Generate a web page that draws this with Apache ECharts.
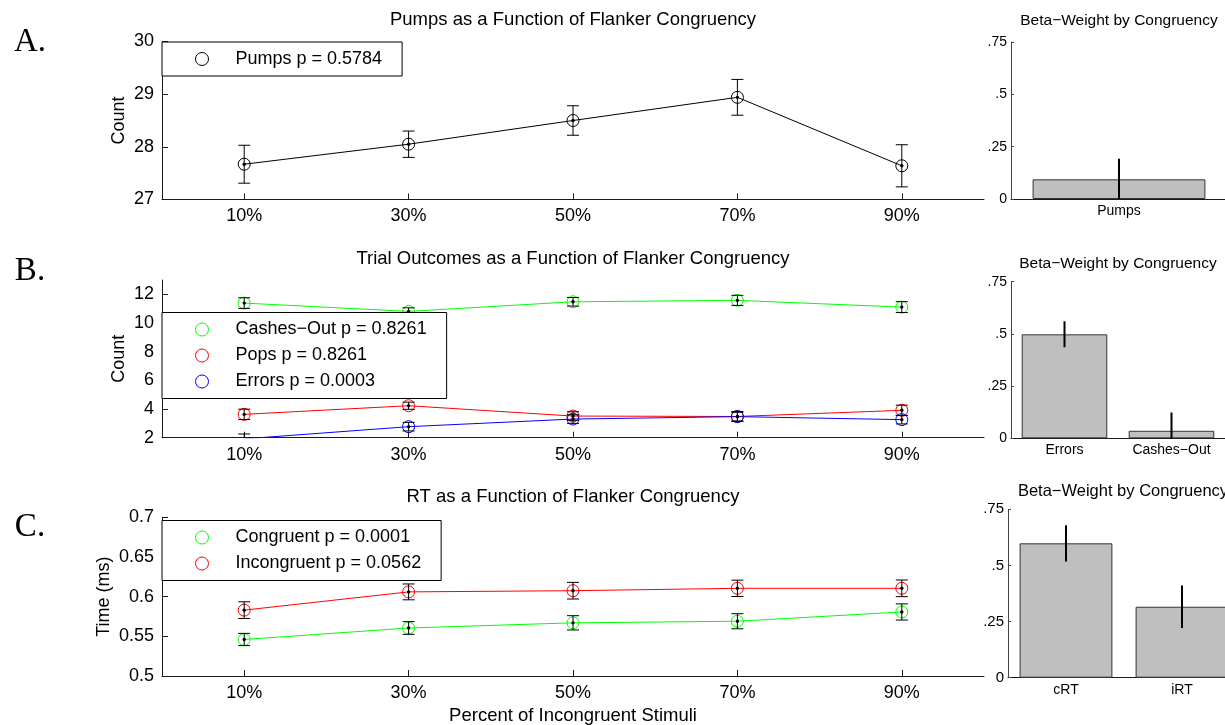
<!DOCTYPE html>
<html>
<head>
<meta charset="utf-8">
<script src="https://cdn.jsdelivr.net/npm/echarts@6/dist/echarts.min.js"></script>
<style>
  html, body { margin: 0; padding: 0; background: #fff; }
  #chart { width: 1225px; height: 725px; }
</style>
</head>
<body>
<div id="chart"></div>
<script>
// categories
var pct = ['10%', '30%', '50%', '70%', '90%'];

// A. pumps
var pumps = [27.67, 28.05, 28.50, 28.94, 27.64];
var pumpsErr = [0.36, 0.25, 0.28, 0.34, 0.40];

// B. trial outcomes
var cashes = [11.39, 10.81, 11.48, 11.58, 11.11];
var cashesErr = [0.37, 0.25, 0.30, 0.35, 0.38];
var pops = [3.63, 4.23, 3.51, 3.48, 3.91];
var popsErr = [0.36, 0.25, 0.30, 0.35, 0.36];
var errs = [1.92, 2.77, 3.30, 3.47, 3.26];
var errsErr = [0.34, 0.30, 0.30, 0.30, 0.30];

// C. RT
var congruent = [0.546, 0.5605, 0.567, 0.569, 0.5807];
var congruentErr = [0.0077, 0.008, 0.009, 0.0095, 0.0102];
var incongruent = [0.583, 0.606, 0.6075, 0.6105, 0.6105];
var incongruentErr = [0.0105, 0.010, 0.0105, 0.0103, 0.0105];

// beta weights
var betaCatA = ['Pumps'];
var betaA = [0.094];
var betaErrA = [0.098];
var betaCatB = ['Errors', 'Cashes\u2212Out'];
var betaB = [0.498, 0.036];
var betaErrB = [0.0625, 0.088];
var betaCatC = ['cRT', 'iRT'];
var betaC = [0.5985, 0.316];
var betaErrC = [0.081, 0.095];

var FONT = '"Liberation Sans", Arial, Helvetica, sans-serif';
var SERIF = '"Liberation Serif", "Times New Roman", serif';
var AX = '#1a1a1a';

var chart = echarts.init(document.getElementById('chart'));

function pack(vals, err) {
    return vals.map(function (v, i) { return [i, v, err[i]]; });
}

// MATLAB style error bar with caps and a black dot in the middle
function capBar(params, api) {
    var x = api.value(0), y = api.value(1), e = api.value(2);
    var c = api.coord([x, y]);
    var hi = api.coord([x, y + e]);
    var lo = api.coord([x, y - e]);
    var w = 6;
    var st = { stroke: '#000', lineWidth: 1 };
    return {
        type: 'group',
        children: [
            { type: 'line', shape: { x1: c[0], y1: hi[1], x2: c[0], y2: lo[1] }, style: st },
            { type: 'line', shape: { x1: c[0] - w, y1: hi[1], x2: c[0] + w, y2: hi[1] }, style: st },
            { type: 'line', shape: { x1: c[0] - w, y1: lo[1], x2: c[0] + w, y2: lo[1] }, style: st },
            { type: 'circle', shape: { cx: c[0], cy: c[1], r: 1.7 }, style: { fill: '#000' } }
        ]
    };
}

// plain vertical error bar for the beta bars
function stickBar(params, api) {
    var x = api.value(0), y = api.value(1), e = api.value(2);
    var hi = api.coord([x, y + e]);
    var lo = api.coord([x, Math.max(0, y - e)]);
    return { type: 'line', shape: { x1: hi[0], y1: hi[1], x2: hi[0], y2: lo[1] },
             style: { stroke: '#000', lineWidth: 2 } };
}

function lineSeries(name, vals, color, idx) {
    return {
        name: name, type: 'line', xAxisIndex: idx, yAxisIndex: idx,
        data: vals, symbol: 'circle', symbolSize: 12, clip: true,
        lineStyle: { color: color, width: 1 },
        itemStyle: { color: 'rgba(0,0,0,0)', borderColor: color, borderWidth: 1 },
        emphasis: { disabled: true }, z: 2
    };
}

function errSeries(vals, err, idx) {
    return {
        type: 'custom', xAxisIndex: idx, yAxisIndex: idx, clip: true,
        data: pack(vals, err), renderItem: capBar, z: 3, silent: true
    };
}

function legendItem(name, color) {
    return { name: name, itemStyle: { color: 'rgba(0,0,0,0)', borderColor: color, borderWidth: 1 } };
}

function legendBox(top, items) {
    return {
        left: 162, top: top, orient: 'vertical', icon: 'circle',
        itemWidth: 13, itemHeight: 13, itemGap: 8,
        padding: [8, 20, 8, 33],
        backgroundColor: '#fff', borderColor: '#000', borderWidth: 1,
        selectedMode: false,
        textStyle: { fontFamily: FONT, fontSize: 18, color: '#000', padding: [0, 0, 0, 22] },
        data: items
    };
}

function leftX(idx, withName) {
    var ax = {
        type: 'category', gridIndex: idx, data: pct, boundaryGap: true,
        axisLine: { lineStyle: { color: AX, width: 1 } },
        axisTick: { show: true, alignWithLabel: true, inside: true, length: 6, lineStyle: { color: AX } },
        axisLabel: { fontFamily: FONT, fontSize: 18, color: '#000', margin: 8 },
        splitLine: { show: false }
    };
    if (withName) {
        ax.name = 'Percent of Incongruent Stimuli';
        ax.nameLocation = 'middle';
        ax.nameGap = 30;
        ax.nameTextStyle = { fontFamily: FONT, fontSize: 18.5, color: '#000' };
    }
    return ax;
}

function leftY(idx, min, max, interval, name, gap) {
    return {
        type: 'value', gridIndex: idx, min: min, max: max, interval: interval,
        name: name, nameLocation: 'middle', nameGap: gap, nameMoveOverlap: false,
        nameTextStyle: { fontFamily: FONT, fontSize: 18, color: '#000' },
        axisLine: { show: true, lineStyle: { color: AX, width: 1 } },
        axisTick: { show: true, inside: true, length: 6, lineStyle: { color: AX } },
        axisLabel: { fontFamily: FONT, fontSize: 18, color: '#000', margin: 8, showMaxLabel: max !== 13 },
        splitLine: { show: false }
    };
}

function rightX(idx, cats) {
    return {
        type: 'category', gridIndex: idx, data: cats, boundaryGap: true,
        axisLine: { lineStyle: { color: AX, width: 1 } },
        axisTick: { show: false },
        axisLabel: { fontFamily: FONT, fontSize: 14, color: '#000', margin: 5 },
        splitLine: { show: false }
    };
}

function rightY(idx, size) {
    return {
        type: 'value', gridIndex: idx, min: 0, max: 0.75, interval: 0.25,
        axisLine: { show: true, lineStyle: { color: '#444', width: 1 } },
        axisTick: { show: true, inside: true, length: 3, lineStyle: { color: '#444' } },
        axisLabel: {
            fontFamily: FONT, fontSize: size, color: '#000', margin: 4,
            formatter: function (v) { return v === 0 ? '0' : String(+v.toFixed(2)).replace(/^0/, ''); }
        },
        splitLine: { show: false }
    };
}

function barSeries(vals, idx) {
    return {
        type: 'bar', xAxisIndex: idx, yAxisIndex: idx, data: vals, barWidth: '80%',
        itemStyle: { color: '#bfbfbf', borderColor: '#333', borderWidth: 1 },
        emphasis: { disabled: true }, silent: true, z: 2
    };
}

function stickSeries(vals, err, idx) {
    return {
        type: 'custom', xAxisIndex: idx, yAxisIndex: idx, clip: true,
        data: pack(vals, err), renderItem: stickBar, z: 3, silent: true
    };
}

function txt(x, y, text, size, family) {
    return {
        type: 'text', x: x, y: y, silent: true,
        style: { text: text, fill: '#000', font: size + 'px ' + (family || FONT), align: 'center', verticalAlign: 'middle' }
    };
}

var option = {
    animation: false,
    backgroundColor: '#fff',
    grid: [
        { left: 162, top: 41.5, width: 822, height: 158, outerBoundsMode: 'none' },
        { left: 162, top: 280, width: 822, height: 157.7, outerBoundsMode: 'none' },
        { left: 162, top: 517.3, width: 822, height: 158.7, outerBoundsMode: 'none' },
        { left: 1011, top: 42, width: 216, height: 157, outerBoundsMode: 'none' },
        { left: 1011, top: 281.7, width: 214, height: 156.6, outerBoundsMode: 'none' },
        { left: 1008, top: 509.3, width: 232, height: 168.4, outerBoundsMode: 'none' }
    ],
    xAxis: [
        leftX(0, false), leftX(1, false), leftX(2, true),
        rightX(3, betaCatA), rightX(4, betaCatB), rightX(5, betaCatC)
    ],
    yAxis: [
        leftY(0, 27, 30, 1, 'Count', 34),
        leftY(1, 2, 13, 2, 'Count', 34),
        leftY(2, 0.5, 0.7, 0.05, 'Time (ms)', 49),
        rightY(3, 14), rightY(4, 14), rightY(5, 15)
    ],
    legend: [
        legendBox(42, [legendItem('Pumps p = 0.5784', '#000')]),
        legendBox(312.5, [
            legendItem('Cashes\u2212Out p = 0.8261', '#00ff00'),
            legendItem('Pops p = 0.8261', '#ff0000'),
            legendItem('Errors p = 0.0003', '#0000ff')
        ]),
        legendBox(520.5, [
            legendItem('Congruent p = 0.0001', '#00ff00'),
            legendItem('Incongruent p = 0.0562', '#ff0000')
        ])
    ],
    graphic: [
        txt(573, 20, 'Pumps as a Function of Flanker Congruency', 18.5),
        txt(573, 259, 'Trial Outcomes as a Function of Flanker Congruency', 18.5),
        txt(573, 497, 'RT as a Function of Flanker Congruency', 18.5),
        txt(1119, 21, 'Beta\u2212Weight by Congruency', 15.5),
        txt(1118, 264, 'Beta\u2212Weight by Congruency', 15.5),
        txt(1123, 491, 'Beta\u2212Weight by Congruency', 16.5),
        txt(30, 42, 'A.', 33, SERIF),
        txt(30, 271, 'B.', 33, SERIF),
        txt(30, 527, 'C.', 33, SERIF)
    ],
    series: [
        lineSeries('Pumps p = 0.5784', pumps, '#000', 0),
        errSeries(pumps, pumpsErr, 0),

        lineSeries('Cashes\u2212Out p = 0.8261', cashes, '#00ff00', 1),
        lineSeries('Pops p = 0.8261', pops, '#ff0000', 1),
        lineSeries('Errors p = 0.0003', errs, '#0000ff', 1),
        errSeries(cashes, cashesErr, 1),
        errSeries(pops, popsErr, 1),
        errSeries(errs, errsErr, 1),

        lineSeries('Congruent p = 0.0001', congruent, '#00ff00', 2),
        lineSeries('Incongruent p = 0.0562', incongruent, '#ff0000', 2),
        errSeries(congruent, congruentErr, 2),
        errSeries(incongruent, incongruentErr, 2),

        barSeries(betaA, 3), stickSeries(betaA, betaErrA, 3),
        barSeries(betaB, 4), stickSeries(betaB, betaErrB, 4),
        barSeries(betaC, 5), stickSeries(betaC, betaErrC, 5)
    ]
};

chart.setOption(option);
window.addEventListener('resize', function () {
    chart.resize();
});
</script>
</body>
</html>
